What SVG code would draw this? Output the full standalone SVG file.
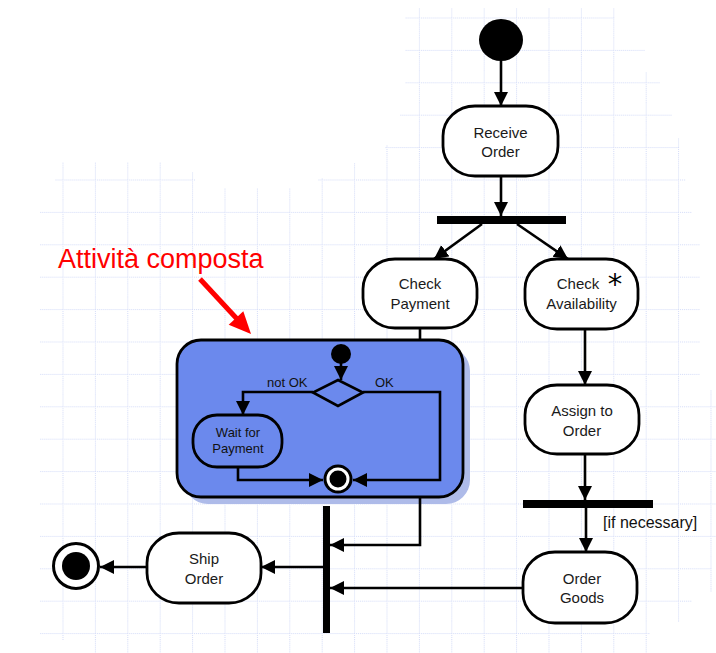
<svg xmlns="http://www.w3.org/2000/svg" width="716" height="653" viewBox="0 0 716 653">
<style>
.node{fill:#fff;stroke:#000;stroke-width:2.8}
.t{font-family:"Liberation Sans",Arial,sans-serif;font-size:15px;fill:#1a1a1a;text-anchor:middle}
.ti{font-family:"Liberation Sans",Arial,sans-serif;font-size:13px;fill:#111;text-anchor:middle}
.lbl{font-family:"Liberation Sans",Arial,sans-serif;font-size:13px;fill:#111}
.ast{font-family:"DejaVu Sans",sans-serif;font-size:29px;fill:#000;text-anchor:middle}
.c{fill:none;stroke:#000;stroke-width:2.6}
.bar{fill:#000}
</style>
<defs>
<marker id="ah" markerUnits="userSpaceOnUse" markerWidth="15" markerHeight="15" refX="14" refY="7" orient="auto">
<path d="M0,0 L14,7 L0,14 z" fill="#000"/>
</marker>
<pattern id="grid" patternUnits="userSpaceOnUse" x="62.5" y="17.5" width="32.4" height="32.4">
<path d="M0,0.5H32.4M0.5,0V32.4" fill="none" stroke="#d3dbf8" stroke-width="1" stroke-dasharray="1 1"/>
</pattern>
<clipPath id="gclip">
<path d="M405,8 H615 V40 H645 V72 H660 V105 H672 V138 H680 V170 H686 V200 H692 V235 H700 V390 H716 V560 H712 V592 H692 V622 H650 V653 H78 V640 H40 V206 H55 V162 H165 V172 H195 V188 H318 V178 H350 V163 H385 V145 H400 V108 H405 Z"/>
</clipPath>
</defs>
<rect width="716" height="653" fill="#fff"/>
<rect width="716" height="653" fill="url(#grid)" clip-path="url(#gclip)"/>

<g id="annotation">
<text x="58" y="268" font-family="'Liberation Sans',Arial,sans-serif" font-size="27" fill="#ff0000">Attività composta</text>
<line x1="200" y1="279" x2="238" y2="320" stroke="#ff0000" stroke-width="5"/>
<polygon points="251,334 228.7,324.8 243.3,311.2" fill="#ff0000"/>
</g>

<g id="composite">
<rect x="184" y="347" width="286" height="157" rx="24" fill="#aebbe9"/>
<rect x="177" y="340" width="286" height="157" rx="24" fill="#6b89ed" stroke="#000" stroke-width="2.8"/>
</g>

<g id="connectors">
<path class="c" d="M501,61 V106" marker-end="url(#ah)"/>
<path class="c" d="M501,176 V216" marker-end="url(#ah)"/>
<path class="c" d="M482,224 L434,259" marker-end="url(#ah)"/>
<path class="c" d="M517,224 L568,259" marker-end="url(#ah)"/>
<path class="c" d="M420,328 V340"/>
<path class="c" d="M585,330 V385" marker-end="url(#ah)"/>
<path class="c" d="M585,454 V500" marker-end="url(#ah)"/>
<path class="c" d="M586,508 V552" marker-end="url(#ah)"/>
<path class="c" d="M420,497 V545 H330" marker-end="url(#ah)"/>
<path class="c" d="M523,588 H330" marker-end="url(#ah)"/>
<path class="c" d="M323,567 H261" marker-end="url(#ah)"/>
<path class="c" d="M147,567 H100" marker-end="url(#ah)"/>
<path class="c" d="M341,362 V380" marker-end="url(#ah)"/>
<path class="c" d="M313,392 H243 V415" marker-end="url(#ah)"/>
<path class="c" d="M363,392 H440 V480 H353" marker-end="url(#ah)"/>
<path class="c" d="M238,467 V480 H323" marker-end="url(#ah)"/>
<text class="lbl" x="603" y="528" style="font-size:16px">[if necessary]</text>
<text class="lbl" x="267" y="387">not OK</text>
<text class="lbl" x="375" y="387">OK</text>
</g>

<g id="start"><ellipse cx="501" cy="40" rx="22" ry="21" fill="#000"/></g>

<g id="receiveOrder">
<rect class="node" x="443" y="106" width="115" height="70" rx="32" ry="30"/>
<text class="t" x="500.5" y="138">Receive</text>
<text class="t" x="500.5" y="157">Order</text>
</g>

<g id="fork1"><rect class="bar" x="437" y="216" width="129" height="8"/></g>

<g id="checkPayment">
<rect class="node" x="363" y="259" width="114" height="69" rx="32" ry="30"/>
<text class="t" x="420" y="289">Check</text>
<text class="t" x="420" y="309">Payment</text>
</g>

<g id="checkAvailability">
<rect class="node" x="525" y="259" width="113" height="70" rx="32" ry="30"/>
<text class="t" x="578" y="289">Check</text>
<text class="t" x="581.5" y="309">Availability</text>
<text class="ast" x="615" y="294">*</text>
</g>

<g id="assignToOrder">
<rect class="node" x="525" y="385" width="114" height="69" rx="32" ry="30"/>
<text class="t" x="582" y="416">Assign to</text>
<text class="t" x="582" y="436">Order</text>
</g>

<g id="fork2"><rect class="bar" x="523" y="500" width="130" height="8"/></g>

<g id="orderGoods">
<rect class="node" x="523" y="552" width="114" height="71" rx="32" ry="30"/>
<text class="t" x="582" y="584">Order</text>
<text class="t" x="582" y="603">Goods</text>
</g>

<g id="join"><rect class="bar" x="323" y="506" width="7" height="127"/></g>

<g id="shipOrder">
<rect class="node" x="147" y="533" width="114" height="70" rx="32" ry="30"/>
<text class="t" x="204" y="564">Ship</text>
<text class="t" x="204" y="584">Order</text>
</g>

<g id="final">
<circle cx="76" cy="566" r="22.5" fill="#fff" stroke="#000" stroke-width="3"/>
<circle cx="76" cy="566" r="14" fill="#000"/>
</g>

<g id="innerStart"><circle cx="341" cy="354" r="10" fill="#000"/></g>

<g id="decision"><polygon points="338,380 363,392.5 338,406 313,392.5" fill="#6b89ed" stroke="#000" stroke-width="2.6"/></g>

<g id="waitForPayment">
<rect class="node" x="193" y="415" width="89" height="52" rx="24" ry="24" style="fill:#6b89ed"/>
<text class="ti" x="238" y="437">Wait for</text>
<text class="ti" x="238" y="453">Payment</text>
</g>

<g id="innerFinal">
<circle cx="338" cy="479" r="14.5" fill="#000"/>
<circle cx="338" cy="479" r="11.5" fill="#fff"/>
<circle cx="338" cy="479" r="8.5" fill="#000"/>
</g>
</svg>
